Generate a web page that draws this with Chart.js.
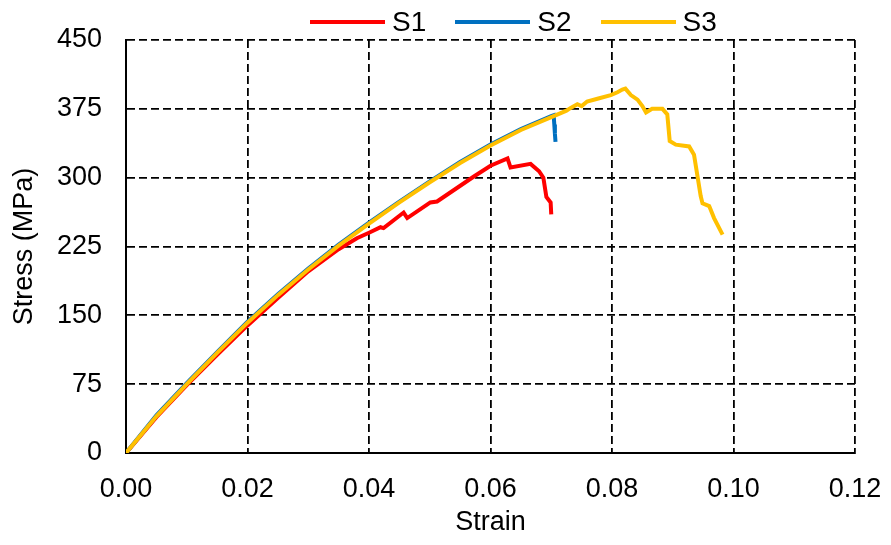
<!DOCTYPE html>
<html>
<head>
<meta charset="utf-8">
<script src="https://cdn.jsdelivr.net/npm/chart.js@4.4.1/dist/chart.umd.min.js"></script>
<style>
    body { margin: 0; background: #fff; }
    #wrap { position: relative; width: 891px; height: 545px; }
    #legend {
        position: absolute; left: 310px; top: 6px; height: 32px;
        display: flex; align-items: center;
        font-family: "Liberation Sans", Arial, sans-serif; font-size: 28px; color: #000;
    }
    .legend-item { display: flex; align-items: center; margin-right: 29px; }
    .legend-swatch { width: 75px; height: 4px; margin-right: 7px; }
</style>
</head>
<body>
<div id="wrap">
    <canvas id="stressChart" width="891" height="545"></canvas>
    <div id="legend"></div>
</div>
<script>
const SERIES_NAMES = ['S1', 'S2', 'S3'];
const SERIES_COLORS = ['#ff0000', '#0070c0', '#ffc000'];

// S1
const s1Strain = [0, 0.005, 0.01, 0.015, 0.02, 0.025, 0.03, 0.035, 0.038, 0.040, 0.0419, 0.0424, 0.0457,
    0.0463, 0.0501, 0.0512, 0.0572, 0.060, 0.0628, 0.0633, 0.0666, 0.0680, 0.0687, 0.0692,
    0.0699, 0.0700];
const s1Stress = [0, 39, 74, 107, 139, 169, 198, 222, 234, 240, 246, 245, 262,
    256, 273, 274, 301, 313, 321, 311, 315, 307, 300, 279,
    273, 260];

// S2
const s2Strain = [0, 0.005, 0.01, 0.015, 0.02, 0.025, 0.03, 0.035, 0.04, 0.045, 0.05, 0.055, 0.06,
    0.065, 0.070, 0.0704, 0.0705, 0.0706, 0.0707];
const s2Stress = [0, 41, 76, 110, 143, 173, 201, 227, 251, 274, 296, 317, 336,
    353, 367, 368, 358, 348, 339];

// S3
const s3Strain = [0, 0.005, 0.01, 0.015, 0.02, 0.025, 0.03, 0.035, 0.04, 0.045, 0.05, 0.055, 0.06,
    0.065, 0.0704, 0.0725, 0.0732, 0.0743, 0.0750, 0.0759, 0.0776, 0.0798, 0.0809, 0.0817, 0.0822,
    0.0831, 0.0842, 0.0850, 0.0856, 0.0866, 0.0883, 0.0891, 0.0895, 0.0905, 0.0927, 0.0935, 0.0946,
    0.0949, 0.0960, 0.0968, 0.0982];
const s3Stress = [0, 40, 75, 109, 142, 172, 200, 226, 250, 273, 295, 316, 335,
    352, 367, 373, 376, 380, 378, 383, 386, 390, 393, 396, 397,
    390, 385, 378, 371, 375, 375, 369, 340, 336, 334, 325, 280,
    272, 269, 256, 238];

const X_TICKS = [0, 0.02, 0.04, 0.06, 0.08, 0.10, 0.12];
const Y_TICKS = [0, 75, 150, 225, 300, 375, 450];

function toPoints(xs, ys) {
    return xs.map((x, i) => ({ x, y: ys[i] }));
}

const FONT = '"Liberation Sans", Arial, sans-serif';

const datasets = [
    { label: SERIES_NAMES[0], data: toPoints(s1Strain, s1Stress), order: 2 },
    { label: SERIES_NAMES[1], data: toPoints(s2Strain, s2Stress), order: 1 },
    { label: SERIES_NAMES[2], data: toPoints(s3Strain, s3Stress), order: 0 }
].map((d, i) => Object.assign(d, {
    borderColor: SERIES_COLORS[i],
    backgroundColor: SERIES_COLORS[i],
    borderWidth: 4,
    pointRadius: 0,
    showLine: true,
    tension: 0
}));

const chart = new Chart(document.getElementById('stressChart'), {
    type: 'scatter',
    data: { datasets },
    options: {
        responsive: false,
        animation: false,
        layout: { padding: { top: 40, right: 36, left: 0, bottom: 0 } },
        plugins: {
            legend: { display: false },
            tooltip: { enabled: false }
        },
        scales: {
            x: {
                type: 'linear',
                min: 0,
                max: 0.12,
                afterFit: (scale) => {
                    scale.height = 92;
                    // labels may overflow into the layout padding
                    scale.paddingLeft = 0;
                    scale.paddingRight = 0;
                },
                afterBuildTicks: (scale) => { scale.ticks = X_TICKS.map(v => ({ value: v })); },
                ticks: {
                    padding: 20,
                    color: '#000',
                    font: { family: FONT, size: 27 },
                    callback: (v) => Number(v).toFixed(2)
                },
                grid: { color: '#000', lineWidth: 1.8, drawTicks: false },
                border: { display: true, color: '#000', width: 2, dash: [8, 4] },
                title: {
                    display: true,
                    text: 'Strain',
                    color: '#000',
                    font: { family: FONT, size: 27 },
                    padding: { top: 0, bottom: 6 }
                }
            },
            y: {
                min: 0,
                max: 450,
                afterFit: (scale) => {
                    scale.width = 126;
                    scale.paddingTop = 0;
                    scale.paddingBottom = 0;
                },
                afterBuildTicks: (scale) => { scale.ticks = Y_TICKS.map(v => ({ value: v })); },
                ticks: {
                    padding: 24,
                    color: '#000',
                    font: { family: FONT, size: 27 }
                },
                grid: { color: '#000', lineWidth: 1.8, drawTicks: false },
                border: { display: true, color: '#000', width: 2, dash: [8, 4] },
                title: {
                    display: true,
                    text: 'Stress (MPa)',
                    color: '#000',
                    font: { family: FONT, size: 27 },
                    padding: { top: 8, bottom: 0 }
                }
            }
        }
    }
});

// HTML legend built from the datasets
const legendEl = document.getElementById('legend');
chart.data.datasets.forEach(ds => {
    const item = document.createElement('div');
    item.className = 'legend-item';
    const sw = document.createElement('span');
    sw.className = 'legend-swatch';
    sw.style.background = ds.borderColor;
    const txt = document.createElement('span');
    txt.textContent = ds.label;
    item.appendChild(sw);
    item.appendChild(txt);
    legendEl.appendChild(item);
});
</script>
</body>
</html>
